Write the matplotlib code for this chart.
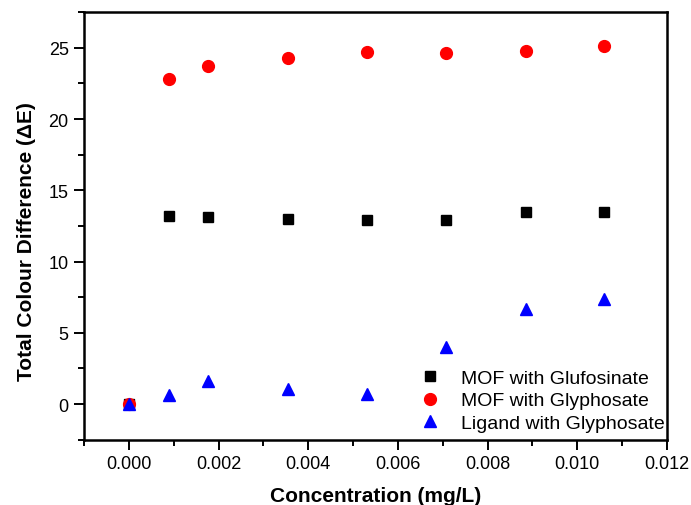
import matplotlib.pyplot as plt
from matplotlib.ticker import MultipleLocator

plt.rcParams['font.family'] = ['Liberation Sans', 'DejaVu Sans']

# concentration (mg/L)
conc = [0.0, 0.000885, 0.00177, 0.00354, 0.00531, 0.00708, 0.00885, 0.0106]
# total colour difference
mof_glufosinate = [0.0, 13.2, 13.15, 13.0, 12.95, 12.9, 13.5, 13.5]
mof_glyphosate = [0.0, 22.8, 23.7, 24.3, 24.7, 24.65, 24.75, 25.1]
ligand_glyphosate = [0.0, 0.65, 1.65, 1.05, 0.7, 4.0, 6.7, 7.4]

fig = plt.figure(figsize=(6.91, 5.06), dpi=100)
ax = fig.add_axes([0.1216, 0.129, 0.8437, 0.845])

ax.plot(conc, mof_glufosinate, 's', color='black', markersize=7, label='MOF with Glufosinate')
ax.plot(conc, mof_glyphosate, 'o', color='red', markersize=8.5, label='MOF with Glyphosate')
ax.plot(conc, ligand_glyphosate, '^', color='blue', markersize=9, label='Ligand with Glyphosate')

ax.set_xlim(-0.001, 0.012)
ax.set_ylim(-2.5, 27.5)
ax.xaxis.set_major_locator(MultipleLocator(0.002))
ax.xaxis.set_minor_locator(MultipleLocator(0.001))
ax.yaxis.set_major_locator(MultipleLocator(5))
ax.yaxis.set_minor_locator(MultipleLocator(2.5))
ax.xaxis.set_major_formatter(plt.FormatStrFormatter('%.3f'))

ax.tick_params(which='major', direction='out', length=7, width=1.4, labelsize=13, pad=4)
ax.tick_params(which='minor', direction='out', length=4, width=1.4)
for s in ax.spines.values():
    s.set_linewidth(1.8)

ax.set_xlabel('Concentration (mg/L)', fontsize=15, fontweight='bold', labelpad=10)
ax.set_ylabel('Total Colour Difference (\u0394E)', fontsize=15, fontweight='bold')
ax.yaxis.set_label_coords(-0.082, 0.465)

ax.legend(loc='lower right', frameon=False, fontsize=14, handletextpad=0.6,
          labelspacing=0.25, borderaxespad=0.0, bbox_to_anchor=(1.01, 0.0))

fig.savefig('out.png', dpi=100)
